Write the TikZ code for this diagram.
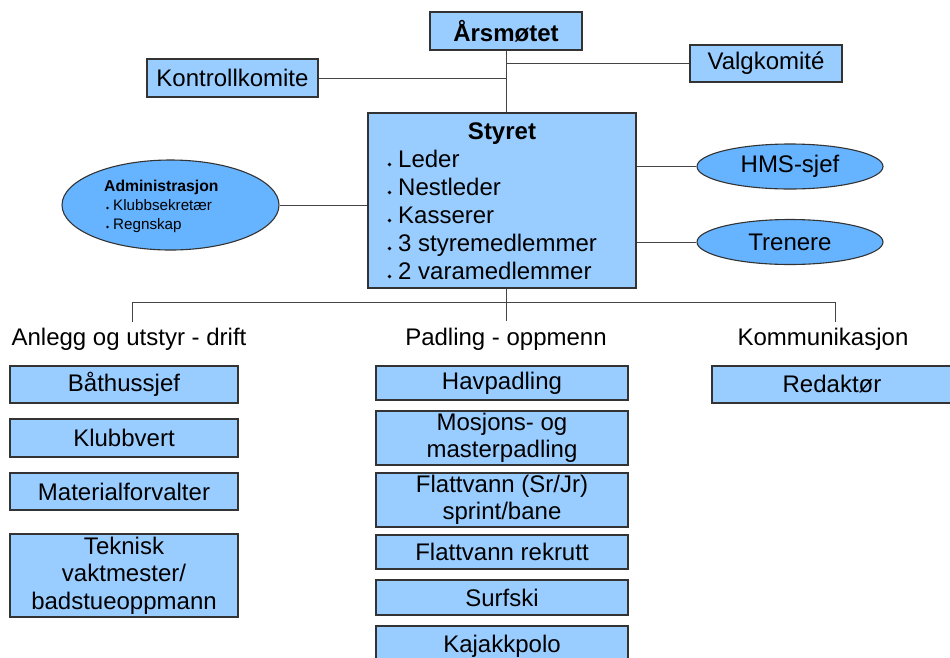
\documentclass[tikz,border=0pt]{standalone}
\usepackage{fontspec}
\setmainfont{Liberation Sans}
\usetikzlibrary{shapes.geometric}
\definecolor{boxblue}{HTML}{99CCFF}
\definecolor{ellblue}{HTML}{66B3FF}
\definecolor{edge}{HTML}{333333}
\definecolor{conn}{HTML}{444444}
\begin{document}
\begin{tikzpicture}[x=1pt,y=-1pt,
  box/.style={draw=edge,line width=1.1pt,fill=boxblue,rectangle,inner sep=0pt,align=center,
    font=\fontsize{24}{27.5}\selectfont},
  oval/.style={draw=edge,line width=1.1pt,fill=ellblue,ellipse,inner sep=0pt,align=center,
    font=\fontsize{24}{27.5}\selectfont},
  lbl/.style={inner sep=0pt,font=\fontsize{24}{27.5}\selectfont},
  item/.style={anchor=base west,inner sep=0pt,font=\fontsize{24}{27.5}\selectfont},
  sitem/.style={anchor=base west,inner sep=0pt,font=\fontsize{15.2}{18}\selectfont},
  conline/.style={draw=conn,line width=0.9pt}]
\useasboundingbox (0,0) rectangle (950,657);
\fill[white] (0,0) rectangle (950,657);

% top
\node[box,minimum width=152,minimum height=38,font=\fontsize{24}{27.5}\selectfont\bfseries] (aars) at (506,31) {Årsmøtet};
\node[box,minimum width=171,minimum height=38] (kontroll) at (232.5,78) {Kontrollkomite};
\node[box,minimum width=152,minimum height=37] (valg) at (766,63.5) {Valgkomité};

% Styret
\node[box,minimum width=268,minimum height=175] (styret) at (502,200.5) {};
\node[anchor=base,inner sep=0pt,font=\fontsize{24}{27.5}\selectfont\bfseries] (sttitle) at (502,139) {Styret};
\foreach \t [count=\i] in {Leder,Nestleder,Kasserer,3 styremedlemmer,2 varamedlemmer}{
  \fill (389.5,{139+28*\i-2.5}) circle (1.8);
  \node[item] (st\i) at (398,{139+28*\i}) {\t};
}

% ellipses
\node[oval,minimum width=217,minimum height=90] (admin) at (170.5,205) {};
\node[anchor=base west,inner sep=0pt,font=\fontsize{15.7}{18}\selectfont\bfseries] (admtitle) at (104,191) {Administrasjon};
\fill (107.5,{210-2}) circle (1.3);
\node[sitem] (adm1) at (113,210) {Klubbsekretær};
\fill (107.5,{229-2}) circle (1.3);
\node[sitem] (adm2) at (113,229) {Regnskap};
\node[oval,minimum width=186,minimum height=45] (hms) at (790,166.5) {HMS-sjef};
\node[oval,minimum width=186,minimum height=45] (trenere) at (790,242) {Trenere};

% connectors top
\draw[conline] (aars.south) -- (aars.south |- styret.north);
\draw[conline] (valg.west) -- (valg.west -| aars.south);
\draw[conline] (kontroll.east) -- (kontroll.east -| aars.south);
\draw[conline] (admin.east) -- (admin.east -| styret.west);
\draw[conline] (hms.west) -- (hms.west -| styret.east);
\draw[conline] (trenere.west) -- (trenere.west -| styret.east);

% bus
\coordinate (bL) at (132,302);
\coordinate (bR) at (835,302);
\coordinate (bLe) at (132,322);
\coordinate (bRe) at (835,322);
\coordinate (bMe) at (506,321);
\draw[conline] (bL) -- (bR);
\draw[conline] (bL) -- (bLe);
\draw[conline] (bR) -- (bRe);
\draw[conline] (aars.south |- styret.south) -- (bMe);

% group labels
\node[lbl] (gA) at (129,339) {Anlegg og utstyr - drift};
\node[lbl] (gP) at (506,339) {Padling - oppmenn};
\node[lbl] (gK) at (823,339) {Kommunikasjon};

% left column
\node[box,minimum width=228,minimum height=37] (baat) at (124,384.5) {Båthussjef};
\node[box,minimum width=228,minimum height=38] (klubb) at (124,438) {Klubbvert};
\node[box,minimum width=228,minimum height=37] (mat) at (124,491.5) {Materialforvalter};
\node[box,minimum width=228,minimum height=83] (tek) at (124,575.5) {Teknisk\\vaktmester/\\badstueoppmann};

% middle column
\node[box,minimum width=252,minimum height=34] (hav) at (502,383) {Havpadling};
\node[box,minimum width=252,minimum height=54] (mos) at (502,438) {Mosjons- og\\masterpadling};
\node[box,minimum width=252,minimum height=54] (flat) at (502,500) {Flattvann (Sr/Jr)\\sprint/bane};
\node[box,minimum width=252,minimum height=34] (rekr) at (502,552) {Flattvann rekrutt};
\node[box,minimum width=252,minimum height=35] (surf) at (502,597.5) {Surfski};
\node[box,minimum width=252,minimum height=40] (kaj) at (502,646) {Kajakkpolo};

% right column
\node[box,minimum width=240,minimum height=37] (red) at (832,384.5) {Redaktør};
\end{tikzpicture}
\end{document}
